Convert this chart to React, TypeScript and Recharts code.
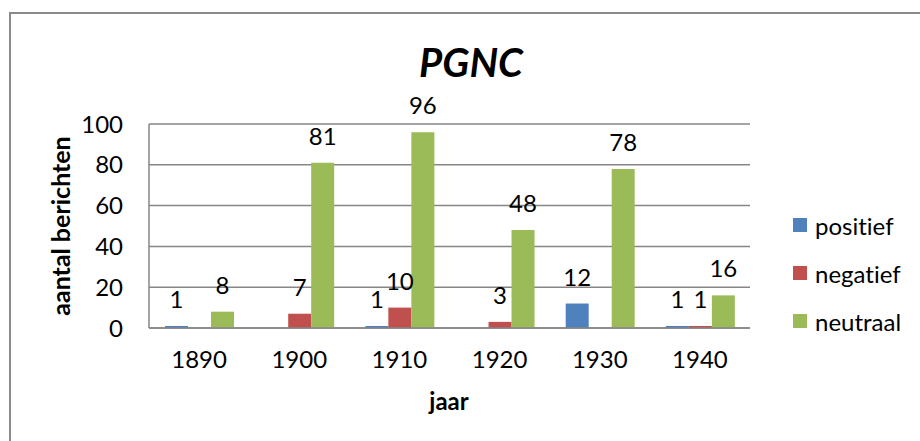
import React from 'react';
import { BarChart, Bar, XAxis, YAxis, CartesianGrid, LabelList } from 'recharts';

const years = ['1890', '1900', '1910', '1920', '1930', '1940'];
const positief = [1, 0, 1, 0, 12, 1];
const negatief = [0, 7, 10, 3, 0, 1];
const neutraal = [8, 81, 96, 48, 78, 16];
const yTicks = [0, 20, 40, 60, 80, 100];

const seriesNames = ['positief', 'negatief', 'neutraal'];
const seriesColors = ['#4F81BD', '#C0504D', '#9BBB59'];

const data = years.map((y, i) => ({
  jaar: y,
  positief: positief[i],
  negatief: negatief[i],
  neutraal: neutraal[i],
}));

const FONT = 'Lato, "Open Sans", sans-serif';
const GRAY = '#868686';
const NOLIG: any = { fontVariantLigatures: 'none', fontFeatureSettings: '"liga" 0, "clig" 0' };

const fmt = (v: any) => (v === 0 || v == null ? '' : v);

const LegendBox = () => (
  <div style={{ position: 'absolute', left: 793, top: 201, fontFamily: FONT, fontSize: 24, color: '#000', ...NOLIG }}>
    {seriesNames.map((n, i) => (
      <div key={n} style={{ display: 'flex', alignItems: 'center', height: 48 }}>
        <span style={{ display: 'inline-block', width: 14, height: 14, background: seriesColors[i], marginRight: 8 }} />
        <span>{n}</span>
      </div>
    ))}
  </div>
);

export default function App() {
  return (
    <div style={{ position: 'absolute', left: 0, top: 0, width: 920, height: 441, background: '#fff', overflow: 'hidden' }}>
      <div style={{ position: 'absolute', left: 9, top: 12, width: 911, height: 429, borderLeft: '2px solid #8a8a8a', borderTop: '2px solid #8a8a8a', boxSizing: 'border-box' }} />
      <div style={{ position: 'absolute', left: 0, top: 0 }}>
        <BarChart
          width={920}
          height={441}
          data={data}
          margin={{ top: 124, right: 170, bottom: 83, left: 89 }}
          barCategoryGap="16%"
          barGap={0}
        >
          <text x={471} y={77} textAnchor="middle" style={{ fontFamily: FONT, fontSize: 40, fontWeight: 700, fontStyle: 'italic' }} fill="#000">PGNC</text>
          <CartesianGrid vertical={false} stroke={GRAY} strokeWidth={1.5} />
          <XAxis
            dataKey="jaar"
            tickLine={false}
            axisLine={{ stroke: GRAY, strokeWidth: 1.5 }}
            tickSize={0}
            tickMargin={23}
            tick={{ fill: '#000', fontSize: 24, fontFamily: FONT }}
            height={30}
          />
          <YAxis
            domain={[0, 100]}
            ticks={yTicks}
            tickLine={false}
            axisLine={{ stroke: GRAY, strokeWidth: 1.5 }}
            tickSize={0}
            tickMargin={26}
            tick={{ fill: '#000', fontSize: 24, fontFamily: FONT }}
            width={60}
          />
          {seriesNames.map((n, i) => (
            <Bar key={n} dataKey={n} name={n} fill={seriesColors[i]} isAnimationActive={false}>
              <LabelList dataKey={n} position="top" offset={18} formatter={fmt} style={{ fill: '#000', fontSize: 24, fontFamily: FONT }} />
            </Bar>
          ))}
        </BarChart>
      </div>
      <LegendBox />
      <div style={{ position: 'absolute', left: 0, top: 0, width: 920, height: 441, pointerEvents: 'none' }}>
        <svg width={920} height={441}>
          <text x={449} y={410} textAnchor="middle" style={{ fontFamily: FONT, fontSize: 24, fontWeight: 700 }} fill="#000">jaar</text>
          <text x={70} y={226} textAnchor="middle" transform="rotate(-90 70 226)" style={{ fontFamily: FONT, fontSize: 25, fontWeight: 700 }} fill="#000">aantal berichten</text>
        </svg>
      </div>
    </div>
  );
}
